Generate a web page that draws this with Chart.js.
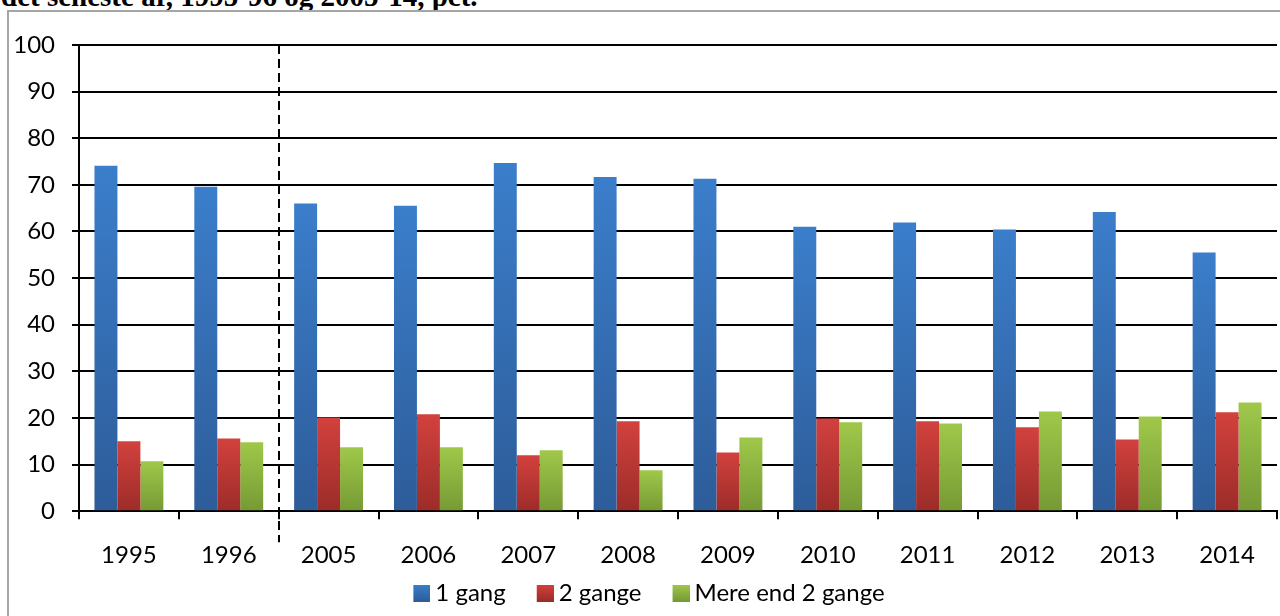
<!DOCTYPE html>
<html lang="da">
<head>
    <meta charset="UTF-8">
    <title>Antal gange - 1995-96 og 2005-14</title>
    <script src="https://cdn.jsdelivr.net/npm/chart.js"></script>
    <style>
        html, body { margin: 0; padding: 0; background: #fff; overflow: hidden; }
        #title {
            position: absolute; left: 1px; top: -18px;
            font: bold 29px/29px "Liberation Serif", "Times New Roman", serif;
            color: #000; white-space: nowrap;
        }
        #frame {
            position: absolute; left: 7px; top: 10px; width: 1300px; height: 700px;
            border-left: 2px solid #a6a6a6; border-top: 2px solid #a6a6a6;
        }
        #wrap { position: absolute; left: 0; top: 0; width: 1280px; height: 616px; }
    </style>
</head>
<body>
    <div id="title">det seneste år, 1995-96 og 2005-14, pct.</div>
    <div id="frame"></div>
    <div id="wrap"><canvas id="chart"></canvas></div>
    <script>
        const years = ['1995', '1996', '2005', '2006', '2007', '2008', '2009', '2010', '2011', '2012', '2013', '2014'];
        const enGang = [74.1, 69.6, 66.0, 65.5, 74.7, 71.7, 71.3, 61.0, 61.9, 60.4, 64.2, 55.5];
        const toGange = [15.0, 15.6, 20.1, 20.8, 12.0, 19.3, 12.6, 19.9, 19.3, 18.0, 15.4, 21.2];
        const mereEnd2 = [10.7, 14.8, 13.7, 13.7, 13.1, 8.8, 15.8, 19.1, 18.8, 21.4, 20.3, 23.3];
        const yTicks = [0, 10, 20, 30, 40, 50, 60, 70, 80, 90, 100];

        // top/bottom colours of the bar gradients
        const shades = [
            ['#3b7ecb', '#2d5c99'],
            ['#d2413d', '#9c2c29'],
            ['#9fc84a', '#769a34']
        ];

        // one gradient per bar, from its top to the axis
        function barFill(pair) {
            return function (ctx) {
                const chart = ctx.chart;
                const y = chart.scales.y;
                if (!y || ctx.parsed === undefined || ctx.type !== 'data') return pair[0];
                const top = y.getPixelForValue(ctx.parsed.y);
                const bottom = y.getPixelForValue(0);
                if (!isFinite(top) || !isFinite(bottom) || top === bottom) return pair[0];
                const g = chart.ctx.createLinearGradient(0, top, 0, bottom);
                g.addColorStop(0, pair[0]);
                g.addColorStop(1, pair[1]);
                return g;
            };
        }

        // legend square: drawn at the right end of a wider transparent image,
        // so the items get more room between them and the text sits close
        function swatch(pair) {
            const c = document.createElement('canvas');
            c.width = 45;
            c.height = 17;
            const g = c.getContext('2d');
            const grad = g.createLinearGradient(0, 0, 0, 17);
            grad.addColorStop(0, pair[0]);
            grad.addColorStop(1, pair[1]);
            g.fillStyle = grad;
            g.fillRect(28, 0, 17, 17);
            return c;
        }
        const swatches = shades.map(swatch);

        // dashed line between 1996 and 2005
        const breakLine = {
            id: 'breakLine',
            afterDatasetsDraw(chart) {
                const x = chart.scales.x;
                const area = chart.chartArea;
                const px = Math.round((x.getPixelForTick(1) + x.getPixelForTick(2)) / 2);
                const c = chart.ctx;
                c.save();
                c.strokeStyle = '#000';
                c.lineWidth = 2;
                c.setLineDash([9, 5]);
                c.beginPath();
                c.moveTo(px, area.top);
                c.lineTo(px, area.bottom + 31);
                c.stroke();
                c.restore();
            }
        };

        const font = { family: 'Lato, "Noto Sans", sans-serif', size: 24 };

        new Chart(document.getElementById('chart'), {
            type: 'bar',
            data: {
                labels: years,
                datasets: [
                    { label: '1 gang', data: enGang, backgroundColor: barFill(shades[0]) },
                    { label: '2 gange', data: toGange, backgroundColor: barFill(shades[1]) },
                    { label: 'Mere end 2 gange', data: mereEnd2, backgroundColor: barFill(shades[2]) }
                ]
            },
            options: {
                responsive: true,
                maintainAspectRatio: false,
                animation: false,
                datasets: { bar: { categoryPercentage: 0.69, barPercentage: 1.0 } },
                layout: { padding: { left: 0, top: 45, right: 3, bottom: 1 } },
                plugins: {
                    tooltip: { enabled: false },
                    legend: {
                        position: 'bottom',
                        labels: {
                            color: '#000',
                            font: font,
                            usePointStyle: true,
                            pointStyleWidth: 31,
                            boxHeight: 17,
                            padding: 10,
                            generateLabels(chart) {
                                const items = Chart.defaults.plugins.legend.labels.generateLabels(chart);
                                items.forEach((it, i) => {
                                    it.pointStyle = swatches[i];
                                    it.lineWidth = 0;
                                });
                                return items;
                            }
                        }
                    }
                },
                scales: {
                    x: {
                        afterFit(scale) { scale.height -= 21; },
                        grid: {
                            display: true,
                            drawOnChartArea: false,
                            offset: true,
                            color: '#000',
                            lineWidth: 2,
                            tickLength: 8
                        },
                        border: { color: '#000', width: 2 },
                        ticks: { color: '#000', font: font, padding: 22 }
                    },
                    y: {
                        min: 0,
                        max: 100,
                        afterFit(scale) { scale.width = 79; },
                        afterBuildTicks(scale) { scale.ticks = yTicks.map(v => ({ value: v })); },
                        grid: { color: '#000', lineWidth: 2, tickLength: 7 },
                        border: { color: '#000', width: 2 },
                        ticks: { color: '#000', font: font, padding: 17 }
                    }
                }
            },
            plugins: [breakLine]
        });
    </script>
</body>
</html>
